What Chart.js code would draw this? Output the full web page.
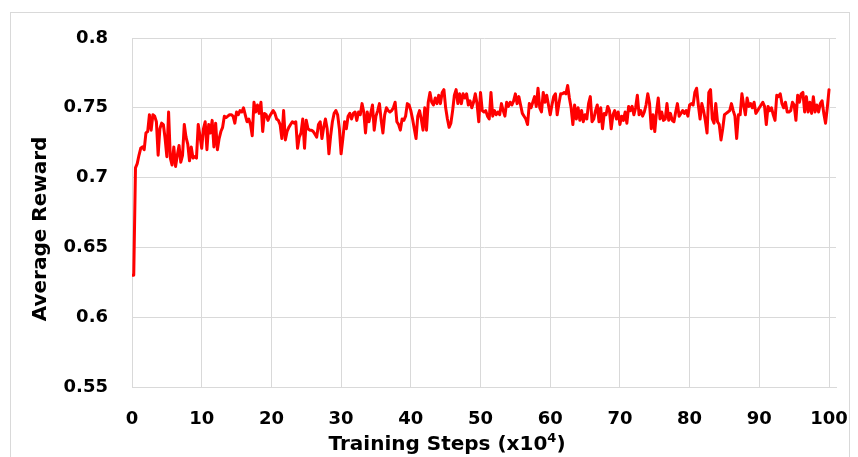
<!DOCTYPE html>
<html>
<head>
<meta charset="utf-8">
<script src="https://cdn.jsdelivr.net/npm/chart.js@4.4.1/dist/chart.umd.min.js"></script>
<style>
  html, body { margin: 0; padding: 0; background: #ffffff; }
  canvas { display: block; }
</style>
</head>
<body>
<canvas id="c" width="858" height="457"></canvas>
<script>
// ---- data ----
const STEP = 0.25; // x10^4 training steps between samples
const reward = [
  0.630, 0.630, 0.707, 0.710,
  0.716, 0.721, 0.722, 0.720,
  0.732, 0.733, 0.745, 0.734,
  0.745, 0.744, 0.740, 0.716,
  0.735, 0.739, 0.738, 0.728,
  0.715, 0.747, 0.714, 0.709,
  0.722, 0.708, 0.716, 0.723,
  0.711, 0.716, 0.738, 0.729,
  0.724, 0.712, 0.722, 0.714,
  0.715, 0.714, 0.738, 0.730,
  0.721, 0.735, 0.740, 0.720,
  0.738, 0.732, 0.741, 0.722,
  0.739, 0.720, 0.728, 0.733,
  0.736, 0.744, 0.743, 0.744,
  0.745, 0.745, 0.744, 0.739,
  0.747, 0.745, 0.748, 0.747,
  0.750, 0.745, 0.740, 0.742,
  0.738, 0.730, 0.754, 0.747,
  0.752, 0.746, 0.754, 0.733,
  0.746, 0.745, 0.741, 0.744,
  0.746, 0.748, 0.746, 0.742,
  0.741, 0.738, 0.728, 0.748,
  0.727, 0.733, 0.736, 0.738,
  0.740, 0.739, 0.740, 0.721,
  0.729, 0.732, 0.742, 0.721,
  0.741, 0.735, 0.734, 0.734,
  0.733, 0.731, 0.729, 0.738,
  0.740, 0.728, 0.736, 0.742,
  0.735, 0.717, 0.730, 0.740,
  0.746, 0.748, 0.745, 0.735,
  0.717, 0.728, 0.740, 0.735,
  0.744, 0.746, 0.742, 0.746,
  0.747, 0.741, 0.747, 0.745,
  0.753, 0.747, 0.732, 0.747,
  0.740, 0.746, 0.752, 0.734,
  0.744, 0.748, 0.753, 0.741,
  0.732, 0.745, 0.750, 0.748,
  0.747, 0.748, 0.750, 0.754,
  0.740, 0.738, 0.734, 0.742,
  0.741, 0.744, 0.753, 0.752,
  0.748, 0.742, 0.735, 0.728,
  0.744, 0.748, 0.742, 0.734,
  0.750, 0.734, 0.754, 0.761,
  0.754, 0.752, 0.757, 0.753,
  0.759, 0.753, 0.761, 0.763,
  0.750, 0.742, 0.736, 0.739,
  0.748, 0.759, 0.763, 0.753,
  0.760, 0.753, 0.760, 0.757,
  0.760, 0.752, 0.755, 0.750,
  0.754, 0.760, 0.753, 0.740,
  0.761, 0.748, 0.747, 0.748,
  0.744, 0.742, 0.761, 0.744,
  0.748, 0.745, 0.747, 0.745,
  0.753, 0.748, 0.744, 0.754,
  0.751, 0.754, 0.752, 0.755,
  0.760, 0.753, 0.758, 0.752,
  0.746, 0.744, 0.742, 0.738,
  0.753, 0.750, 0.754, 0.758,
  0.751, 0.764, 0.750, 0.747,
  0.761, 0.754, 0.759, 0.752,
  0.745, 0.752, 0.758, 0.760,
  0.745, 0.753, 0.760, 0.760,
  0.761, 0.760, 0.766, 0.757,
  0.750, 0.738, 0.752, 0.742,
  0.750, 0.741, 0.748, 0.740,
  0.745, 0.742, 0.753, 0.758,
  0.740, 0.742, 0.748, 0.752,
  0.740, 0.750, 0.735, 0.746,
  0.745, 0.751, 0.748, 0.735,
  0.745, 0.748, 0.742, 0.747,
  0.738, 0.744, 0.741, 0.747,
  0.739, 0.751, 0.748, 0.751,
  0.745, 0.750, 0.759, 0.745,
  0.748, 0.744, 0.747, 0.752,
  0.760, 0.753, 0.735, 0.745,
  0.733, 0.747, 0.757, 0.742,
  0.747, 0.741, 0.742, 0.753,
  0.741, 0.746, 0.741, 0.740,
  0.747, 0.753, 0.744, 0.746,
  0.748, 0.746, 0.748, 0.744,
  0.752, 0.753, 0.752, 0.761,
  0.764, 0.752, 0.742, 0.753,
  0.748, 0.741, 0.732, 0.761,
  0.763, 0.742, 0.739, 0.753,
  0.740, 0.738, 0.727, 0.735,
  0.745, 0.746, 0.747, 0.748,
  0.753, 0.748, 0.744, 0.728,
  0.745, 0.745, 0.760, 0.752,
  0.745, 0.757, 0.751, 0.753,
  0.750, 0.754, 0.746, 0.748,
  0.750, 0.752, 0.754, 0.751,
  0.738, 0.751, 0.748, 0.750,
  0.745, 0.741, 0.759, 0.758,
  0.760, 0.753, 0.750, 0.754,
  0.747, 0.747, 0.748, 0.754,
  0.752, 0.741, 0.759, 0.754,
  0.760, 0.761, 0.747, 0.758,
  0.747, 0.754, 0.746, 0.758,
  0.747, 0.752, 0.747, 0.753,
  0.755, 0.746, 0.739, 0.750,
  0.763
];
const steps = reward.map((_, i) => i * STEP);
const xTickValues = [0, 10, 20, 30, 40, 50, 60, 70, 80, 90, 100];
const yTickValues = [0.55, 0.6, 0.65, 0.7, 0.75, 0.8];
const xTitle = 'Training Steps (x10';
const xTitleSup = '4';
const yTitle = 'Average Reward';

// ---- styling ----
const GRID = '#d9d9d9';
const FONT = '"DejaVu Sans", "Liberation Sans", sans-serif';

const chromePlugin = {
  id: 'chrome',
  beforeDraw(chart) {
    const ctx = chart.ctx;
    ctx.save();
    ctx.fillStyle = '#ffffff';
    ctx.fillRect(0, 0, chart.width, chart.height);
    ctx.strokeStyle = '#d9d9d9';
    ctx.lineWidth = 1;
    ctx.strokeRect(10.5, 12.5, 839, 460);
    ctx.restore();
  },
  afterDraw(chart) {
    const ctx = chart.ctx;
    ctx.save();
    ctx.fillStyle = '#000000';
    ctx.font = 'bold 20px ' + FONT;
    ctx.textBaseline = 'alphabetic';
    ctx.textAlign = 'left';
    const supFont = 'bold 13px ' + FONT;
    const w1 = ctx.measureText(xTitle).width;
    ctx.font = supFont;
    const w2 = ctx.measureText(xTitleSup).width;
    ctx.font = 'bold 20px ' + FONT;
    const w3 = ctx.measureText(')').width;
    const total = w1 + w2 + w3;
    const cx = 447, base = 450;
    const x0 = cx - total / 2;
    ctx.fillText(xTitle, x0, base);
    ctx.font = supFont;
    ctx.fillText(xTitleSup, x0 + w1, base - 8);
    ctx.font = 'bold 20px ' + FONT;
    ctx.fillText(')', x0 + w1 + w2, base);
    ctx.translate(46, 229);
    ctx.rotate(-Math.PI / 2);
    ctx.textAlign = 'center';
    ctx.fillText(yTitle, 0, 0);
    ctx.restore();
  }
};

new Chart(document.getElementById('c'), {
  type: 'line',
  data: {
    datasets: [{
      label: 'Average Reward',
      data: reward.map((r, i) => ({ x: steps[i], y: r })),
      borderColor: '#ff0000',
      backgroundColor: '#ff0000',
      borderWidth: 3,
      borderJoinStyle: 'round',
      borderCapStyle: 'round',
      pointRadius: 0,
      tension: 0,
      fill: false
    }]
  },
  options: {
    responsive: false,
    animation: false,
    devicePixelRatio: 1,
    layout: { padding: { left: 10, right: 22, top: 38, bottom: 0 } },
    plugins: { legend: { display: false }, tooltip: { enabled: false } },
    scales: {
      x: {
        type: 'linear',
        min: 0,
        max: 101,
        afterFit(scale) {
          scale.height = 70;
          scale.paddingLeft = 0;
          scale.paddingRight = 0;
        },
        afterBuildTicks(scale) { scale.ticks = xTickValues.map(v => ({ value: v })); },
        ticks: {
          includeBounds: false,
          padding: 22,
          color: '#000000',
          font: { family: FONT, size: 18, weight: 'bold' },
          maxRotation: 0,
          callback: v => String(v)
        },
        grid: { color: GRID, lineWidth: 1, drawTicks: false },
        border: { color: GRID, width: 1 }
      },
      y: {
        min: 0.55,
        max: 0.8,
        afterFit(scale) {
          scale.width = 122;
          scale.paddingTop = 0;
          scale.paddingBottom = 0;
        },
        afterBuildTicks(scale) { scale.ticks = yTickValues.map(v => ({ value: v })); },
        ticks: {
          padding: 24,
          color: '#000000',
          font: { family: FONT, size: 18, weight: 'bold' },
          callback: v => String(+Number(v).toFixed(2))
        },
        grid: { color: GRID, lineWidth: 1, drawTicks: false },
        border: { color: GRID, width: 1 }
      }
    }
  },
  plugins: [chromePlugin]
});
</script>
</body>
</html>
